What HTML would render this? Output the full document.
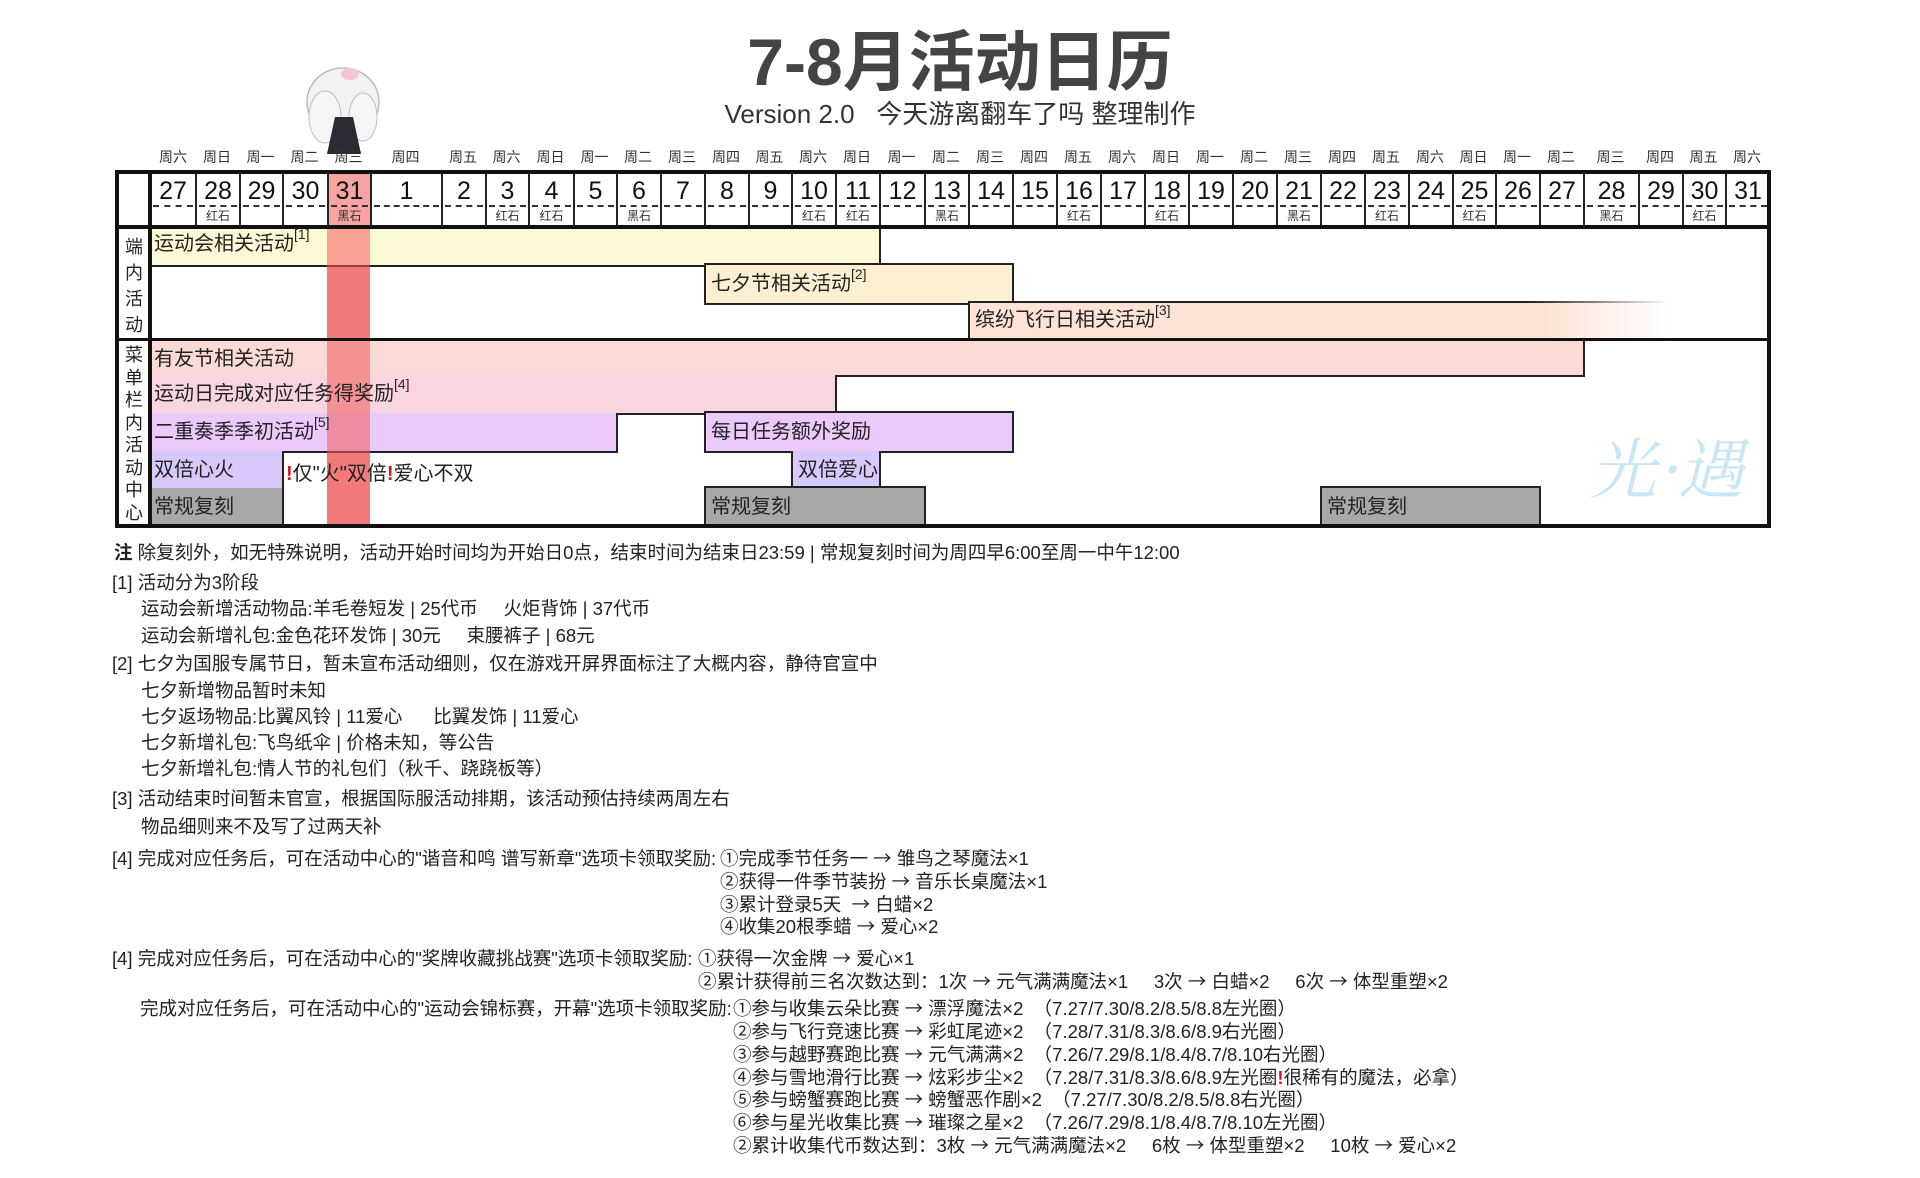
<!DOCTYPE html>
<html><head><meta charset="utf-8">
<style>
*{margin:0;padding:0;box-sizing:border-box}
body{width:1920px;height:1178px;background:#fff;position:relative;overflow:hidden;font-family:"Liberation Sans","Noto Sans CJK SC",sans-serif;color:#222}
.a{position:absolute}
.wd{position:absolute;top:147px;font-size:14px;color:#333;text-align:center}
.c{position:absolute;top:173px;height:54px;border-left:2px solid #222;text-align:center}
.c .n{font-size:25px;line-height:30px;margin-top:3px;color:#111}
.c .d{position:absolute;left:2px;right:2px;top:32px;border-top:2px dashed #333}
.c .s{position:absolute;left:0;right:0;top:36px;font-size:12px;color:#333;line-height:14px}
.bar{position:absolute;border:2px solid #222;font-size:20px;line-height:38px;padding-left:5px;white-space:nowrap;color:#222}
.bar span{position:relative;z-index:2}
.bar sup{font-size:14px;vertical-align:top;line-height:18px}
.t{position:absolute;font-size:18.5px;color:#222;white-space:nowrap}
.vl{position:absolute;left:117px;width:34px;text-align:center;font-size:18px;color:#222}
.ar{font-family:"Noto Sans CJK SC","DejaVu Sans",sans-serif}
</style></head><body>

<div class="a" style="left:560px;top:20px;width:800px;text-align:center;font-size:66px;font-weight:bold;color:#444;letter-spacing:0px;line-height:84px">7-8月活动日历</div>
<div class="a" style="left:560px;top:98px;width:800px;text-align:center;font-size:26px;color:#333;line-height:32px">Version 2.0&nbsp;&nbsp;&nbsp;今天游离翻车了吗 整理制作</div>

<!-- character -->
<svg class="a" style="left:295px;top:62px" width="100" height="95">
<ellipse cx="48" cy="40" rx="36" ry="34" fill="#f3f1f3" stroke="#bbb" stroke-width="1.5"/>
<ellipse cx="30" cy="55" rx="16" ry="26" fill="#f6f4f6" stroke="#c0c0c0"/>
<ellipse cx="68" cy="55" rx="14" ry="24" fill="#f6f4f6" stroke="#c0c0c0"/>
<path d="M40 55 L58 55 L66 92 L32 92 Z" fill="#2b2b33"/>
<ellipse cx="55" cy="12" rx="9" ry="6" fill="#f2c8cc"/>
</svg>

<!-- weekdays -->
<div class="wd" style="left:151px;width:44px">周六</div>
<div class="wd" style="left:195px;width:44px">周日</div>
<div class="wd" style="left:239px;width:43px">周一</div>
<div class="wd" style="left:282px;width:45px">周二</div>
<div class="wd" style="left:327px;width:43px">周三</div>
<div class="wd" style="left:370px;width:71px">周四</div>
<div class="wd" style="left:441px;width:44px">周五</div>
<div class="wd" style="left:485px;width:43px">周六</div>
<div class="wd" style="left:528px;width:45px">周日</div>
<div class="wd" style="left:573px;width:43px">周一</div>
<div class="wd" style="left:616px;width:44px">周二</div>
<div class="wd" style="left:660px;width:44px">周三</div>
<div class="wd" style="left:704px;width:44px">周四</div>
<div class="wd" style="left:748px;width:43px">周五</div>
<div class="wd" style="left:791px;width:44px">周六</div>
<div class="wd" style="left:835px;width:44px">周日</div>
<div class="wd" style="left:879px;width:45px">周一</div>
<div class="wd" style="left:924px;width:44px">周二</div>
<div class="wd" style="left:968px;width:44px">周三</div>
<div class="wd" style="left:1012px;width:44px">周四</div>
<div class="wd" style="left:1056px;width:44px">周五</div>
<div class="wd" style="left:1100px;width:44px">周六</div>
<div class="wd" style="left:1144px;width:44px">周日</div>
<div class="wd" style="left:1188px;width:44px">周一</div>
<div class="wd" style="left:1232px;width:44px">周二</div>
<div class="wd" style="left:1276px;width:44px">周三</div>
<div class="wd" style="left:1320px;width:44px">周四</div>
<div class="wd" style="left:1364px;width:44px">周五</div>
<div class="wd" style="left:1408px;width:44px">周六</div>
<div class="wd" style="left:1452px;width:43px">周日</div>
<div class="wd" style="left:1495px;width:44px">周一</div>
<div class="wd" style="left:1539px;width:44px">周二</div>
<div class="wd" style="left:1583px;width:55px">周三</div>
<div class="wd" style="left:1638px;width:44px">周四</div>
<div class="wd" style="left:1682px;width:43px">周五</div>
<div class="wd" style="left:1725px;width:44px">周六</div>

<!-- highlight column 31 -->
<div class="a" style="left:327px;top:173px;width:43px;height:352px;background:#f6a3a3"></div>

<!-- bars -->
<div class="bar" style="left:149px;top:225px;width:732px;height:42px;background:#fdf8d6;border-left:none;border-top:none"><span>运动会相关活动<sup>[1]</sup></span></div>
<div class="bar" style="left:704px;top:263px;width:310px;height:42px;background:#fdf0d2"><span>七夕节相关活动<sup>[2]</sup></span></div>
<div class="bar" style="left:968px;top:301px;width:700px;height:41px;border:none;border-left:2px solid #222;background:linear-gradient(to right,#fde2d6 0%,#fde2d6 82%,rgba(253,226,214,0) 100%)"><span>缤纷飞行日相关活动<sup>[3]</sup></span></div>
<div class="a" style="left:968px;top:301px;width:700px;height:2px;background:linear-gradient(to right,#222 0%,#222 80%,rgba(34,34,34,0) 100%)"></div>
<div class="bar" style="left:149px;top:338px;width:1436px;height:39px;background:#fbdad6;border-left:none"><span>有友节相关活动</span></div>
<div class="bar" style="left:149px;top:375px;width:688px;height:40px;background:#f8d5df;border-left:none;border-top:none"><span>运动日完成对应任务得奖励<sup>[4]</sup></span></div>
<div class="bar" style="left:149px;top:413px;width:469px;height:40px;background:#ebc9fb;border-left:none;border-top:none"><span>二重奏季季初活动<sup>[5]</sup></span></div>
<div class="bar" style="left:704px;top:411px;width:310px;height:42px;background:#ebc9fb"><span>每日任务额外奖励</span></div>
<div class="bar" style="left:149px;top:451px;width:135px;height:39px;background:#d9c8fb;border-left:none;border-top:none"><span>双倍心火</span></div>
<div class="bar" style="left:791px;top:451px;width:90px;height:39px;background:#d9c8fb;border-top:none"><span>双倍爱心</span></div>
<div class="bar" style="left:149px;top:488px;width:135px;height:38px;background:#a8a8a8;border-left:none;border-top:none"><span>常规复刻</span></div>
<div class="bar" style="left:704px;top:486px;width:222px;height:40px;background:#a8a8a8"><span>常规复刻</span></div>
<div class="bar" style="left:1320px;top:486px;width:221px;height:40px;background:#a8a8a8"><span>常规复刻</span></div>
<div class="t" style="left:286px;top:457px;font-size:20px;z-index:2"><span style="color:#d01818;font-weight:bold">!</span>仅"火"双倍<span style="color:#d01818;font-weight:bold">!</span>爱心不双</div>

<!-- red overlay over bars -->
<div class="a" style="left:327px;top:228px;width:43px;height:297px;background:rgba(240,90,90,0.55)"></div>

<!-- header cells -->
<div class="c" style="left:149px;width:46px"><div class="n">27</div><div class="d"></div></div>
<div class="c" style="left:195px;width:44px"><div class="n">28</div><div class="d"></div><div class="s">红石</div></div>
<div class="c" style="left:239px;width:43px"><div class="n">29</div><div class="d"></div></div>
<div class="c" style="left:282px;width:45px"><div class="n">30</div><div class="d"></div></div>
<div class="c" style="left:327px;width:43px;background:#f6a3a3"><div class="n">31</div><div class="d"></div><div class="s">黑石</div></div>
<div class="c" style="left:370px;width:71px"><div class="n">1</div><div class="d"></div></div>
<div class="c" style="left:441px;width:44px"><div class="n">2</div><div class="d"></div></div>
<div class="c" style="left:485px;width:43px"><div class="n">3</div><div class="d"></div><div class="s">红石</div></div>
<div class="c" style="left:528px;width:45px"><div class="n">4</div><div class="d"></div><div class="s">红石</div></div>
<div class="c" style="left:573px;width:43px"><div class="n">5</div><div class="d"></div></div>
<div class="c" style="left:616px;width:44px"><div class="n">6</div><div class="d"></div><div class="s">黑石</div></div>
<div class="c" style="left:660px;width:44px"><div class="n">7</div><div class="d"></div></div>
<div class="c" style="left:704px;width:44px"><div class="n">8</div><div class="d"></div></div>
<div class="c" style="left:748px;width:43px"><div class="n">9</div><div class="d"></div></div>
<div class="c" style="left:791px;width:44px"><div class="n">10</div><div class="d"></div><div class="s">红石</div></div>
<div class="c" style="left:835px;width:44px"><div class="n">11</div><div class="d"></div><div class="s">红石</div></div>
<div class="c" style="left:879px;width:45px"><div class="n">12</div><div class="d"></div></div>
<div class="c" style="left:924px;width:44px"><div class="n">13</div><div class="d"></div><div class="s">黑石</div></div>
<div class="c" style="left:968px;width:44px"><div class="n">14</div><div class="d"></div></div>
<div class="c" style="left:1012px;width:44px"><div class="n">15</div><div class="d"></div></div>
<div class="c" style="left:1056px;width:44px"><div class="n">16</div><div class="d"></div><div class="s">红石</div></div>
<div class="c" style="left:1100px;width:44px"><div class="n">17</div><div class="d"></div></div>
<div class="c" style="left:1144px;width:44px"><div class="n">18</div><div class="d"></div><div class="s">红石</div></div>
<div class="c" style="left:1188px;width:44px"><div class="n">19</div><div class="d"></div></div>
<div class="c" style="left:1232px;width:44px"><div class="n">20</div><div class="d"></div></div>
<div class="c" style="left:1276px;width:44px"><div class="n">21</div><div class="d"></div><div class="s">黑石</div></div>
<div class="c" style="left:1320px;width:44px"><div class="n">22</div><div class="d"></div></div>
<div class="c" style="left:1364px;width:44px"><div class="n">23</div><div class="d"></div><div class="s">红石</div></div>
<div class="c" style="left:1408px;width:44px"><div class="n">24</div><div class="d"></div></div>
<div class="c" style="left:1452px;width:43px"><div class="n">25</div><div class="d"></div><div class="s">红石</div></div>
<div class="c" style="left:1495px;width:44px"><div class="n">26</div><div class="d"></div></div>
<div class="c" style="left:1539px;width:44px"><div class="n">27</div><div class="d"></div></div>
<div class="c" style="left:1583px;width:55px"><div class="n">28</div><div class="d"></div><div class="s">黑石</div></div>
<div class="c" style="left:1638px;width:44px"><div class="n">29</div><div class="d"></div></div>
<div class="c" style="left:1682px;width:43px"><div class="n">30</div><div class="d"></div><div class="s">红石</div></div>
<div class="c" style="left:1725px;width:44px"><div class="n">31</div><div class="d"></div></div>

<!-- frame lines -->
<div class="a" style="left:115px;top:170px;width:1656px;height:358px;border:4px solid #111"></div>
<div class="a" style="left:115px;top:225px;width:1656px;height:4px;background:#111"></div>
<div class="a" style="left:148px;top:170px;width:4px;height:358px;background:#111"></div>
<div class="a" style="left:115px;top:338px;width:1656px;height:3px;background:#111"></div>

<div class="vl" style="top:234px;line-height:26px">端<br>内<br>活<br>动</div>
<div class="vl" style="top:344px;line-height:22.5px">菜<br>单<br>栏<br>内<br>活<br>动<br>中<br>心</div>

<div class="a" style="left:1590px;top:425px;font-size:66px;line-height:80px;color:#bfe2f6;font-style:italic;font-family:'Noto Serif CJK SC',serif;opacity:.85;white-space:nowrap">光·遇</div>

<!-- notes -->
<div class="t" style="left:114px;top:539px;font-size:18.5px"><b>注</b> 除复刻外，如无特殊说明，活动开始时间均为开始日0点，结束时间为结束日23:59 | 常规复刻时间为周四早6:00至周一中午12:00</div>
<div class="t" style="left:112px;top:569px">[1] 活动分为3阶段</div>
<div class="t" style="left:141px;top:595px">运动会新增活动物品:羊毛卷短发 | 25代币&nbsp;&nbsp;&nbsp;&nbsp;&nbsp;火炬背饰 | 37代币</div>
<div class="t" style="left:141px;top:622px">运动会新增礼包:金色花环发饰 | 30元&nbsp;&nbsp;&nbsp;&nbsp;&nbsp;束腰裤子 | 68元</div>
<div class="t" style="left:112px;top:650px">[2] 七夕为国服专属节日，暂未宣布活动细则，仅在游戏开屏界面标注了大概内容，静待官宣中</div>
<div class="t" style="left:141px;top:677px">七夕新增物品暂时未知</div>
<div class="t" style="left:141px;top:703px">七夕返场物品:比翼风铃 | 11爱心&nbsp;&nbsp;&nbsp;&nbsp;&nbsp;&nbsp;比翼发饰 | 11爱心</div>
<div class="t" style="left:141px;top:729px">七夕新增礼包:飞鸟纸伞 | 价格未知，等公告</div>
<div class="t" style="left:141px;top:755px">七夕新增礼包:情人节的礼包们（秋千、跷跷板等）</div>
<div class="t" style="left:112px;top:785px">[3] 活动结束时间暂未官宣，根据国际服活动排期，该活动预估持续两周左右</div>
<div class="t" style="left:141px;top:813px">物品细则来不及写了过两天补</div>

<div class="t" style="left:112px;top:845px">[4] 完成对应任务后，可在活动中心的"谐音和鸣 谱写新章"选项卡领取奖励:</div>
<div class="t" style="left:720px;top:845px">①完成季节任务一 <span class="ar">→</span> 雏鸟之琴魔法×1</div>
<div class="t" style="left:720px;top:868px">②获得一件季节装扮 <span class="ar">→</span> 音乐长桌魔法×1</div>
<div class="t" style="left:720px;top:891px">③累计登录5天&nbsp;&nbsp;<span class="ar">→</span>&nbsp;白蜡×2</div>
<div class="t" style="left:720px;top:913px">④收集20根季蜡 <span class="ar">→</span> 爱心×2</div>

<div class="t" style="left:112px;top:945px">[4] 完成对应任务后，可在活动中心的"奖牌收藏挑战赛"选项卡领取奖励:</div>
<div class="t" style="left:698px;top:945px">①获得一次金牌 <span class="ar">→</span> 爱心×1</div>
<div class="t" style="left:698px;top:968px">②累计获得前三名次数达到：1次 <span class="ar">→</span> 元气满满魔法×1&nbsp;&nbsp;&nbsp;&nbsp;&nbsp;3次 <span class="ar">→</span> 白蜡×2&nbsp;&nbsp;&nbsp;&nbsp;&nbsp;6次 <span class="ar">→</span> 体型重塑×2</div>

<div class="t" style="left:140px;top:995px">完成对应任务后，可在活动中心的"运动会锦标赛，开幕"选项卡领取奖励:</div>
<div class="t" style="left:733px;top:995px">①参与收集云朵比赛 <span class="ar">→</span> 漂浮魔法×2&nbsp;&nbsp;（7.27/7.30/8.2/8.5/8.8左光圈）</div>
<div class="t" style="left:733px;top:1018px">②参与飞行竞速比赛 <span class="ar">→</span> 彩虹尾迹×2&nbsp;&nbsp;（7.28/7.31/8.3/8.6/8.9右光圈）</div>
<div class="t" style="left:733px;top:1041px">③参与越野赛跑比赛 <span class="ar">→</span> 元气满满×2&nbsp;&nbsp;（7.26/7.29/8.1/8.4/8.7/8.10右光圈）</div>
<div class="t" style="left:733px;top:1064px">④参与雪地滑行比赛 <span class="ar">→</span> 炫彩步尘×2&nbsp;&nbsp;（7.28/7.31/8.3/8.6/8.9左光圈<span style="color:#d01818;font-weight:bold">!</span>很稀有的魔法，必拿）</div>
<div class="t" style="left:733px;top:1086px">⑤参与螃蟹赛跑比赛 <span class="ar">→</span> 螃蟹恶作剧×2&nbsp;&nbsp;（7.27/7.30/8.2/8.5/8.8右光圈）</div>
<div class="t" style="left:733px;top:1109px">⑥参与星光收集比赛 <span class="ar">→</span> 璀璨之星×2&nbsp;&nbsp;（7.26/7.29/8.1/8.4/8.7/8.10左光圈）</div>
<div class="t" style="left:733px;top:1132px">②累计收集代币数达到：3枚 <span class="ar">→</span> 元气满满魔法×2&nbsp;&nbsp;&nbsp;&nbsp;&nbsp;6枚 <span class="ar">→</span> 体型重塑×2&nbsp;&nbsp;&nbsp;&nbsp;&nbsp;10枚 <span class="ar">→</span> 爱心×2</div>

</body></html>
